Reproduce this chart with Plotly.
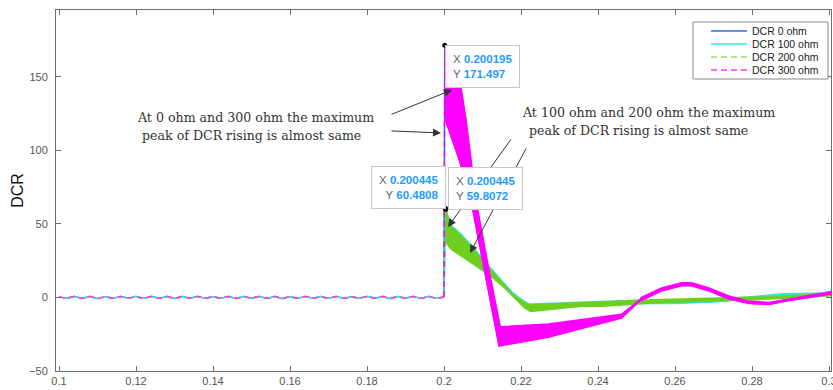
import plotly.graph_objects as go

# ---------------- data ----------------
series_names = ["DCR 0 ohm", "DCR 100 ohm", "DCR 200 ohm", "DCR 300 ohm"]
series_colors = ["#2a6fdb", "#2ee6e6", "#6fcf1f", "#ff00ff"]
legend_colors = ["#2a6fdb", "#2ee6e6", "#9adf6a", "#ff33ff"]
series_dash = ["solid", "solid", "6px,4px", "6px,4px"]

# steady-state ripple before the step (t = 0.1 ... 0.2)
t_pre = [0.100, 0.102, 0.104, 0.106, 0.108, 0.110, 0.112, 0.114, 0.116, 0.118,
         0.120, 0.122, 0.124, 0.126, 0.128, 0.130, 0.132, 0.134, 0.136, 0.138,
         0.140, 0.142, 0.144, 0.146, 0.148, 0.150, 0.152, 0.154, 0.156, 0.158,
         0.160, 0.162, 0.164, 0.166, 0.168, 0.170, 0.172, 0.174, 0.176, 0.178,
         0.180, 0.182, 0.184, 0.186, 0.188, 0.190, 0.192, 0.194, 0.196, 0.198,
         0.200]
v_pre = [0.6, -0.5, 0.7, -0.6, 0.6, -0.7, 0.5, -0.6, 0.7, -0.5,
         0.6, -0.6, 0.7, -0.5, 0.6, -0.7, 0.6, -0.5, 0.7, -0.6,
         0.5, -0.6, 0.7, -0.6, 0.6, -0.5, 0.7, -0.6, 0.6, -0.7,
         0.5, -0.6, 0.7, -0.5, 0.6, -0.6, 0.7, -0.6, 0.5, -0.6,
         0.7, -0.5, 0.6, -0.7, 0.6, -0.5, 0.7, -0.6, 0.6, -0.5,
         0.3]

# step peaks
peak_t = [0.200195, 0.200445, 0.200445, 0.200195]
peak_v = [171.0, 60.4808, 59.8072, 171.497]

# oscillation band: upper / lower envelopes after the step
hi_t = [
    [0.2002, 0.2020, 0.2044, 0.2057, 0.2070, 0.2083, 0.2115, 0.2146, 0.2271, 0.2461, 0.2505,
     0.2513, 0.2565, 0.2617, 0.2643, 0.2688, 0.2740, 0.2792, 0.2844, 0.2896, 0.2948, 0.3008],
    [0.20045, 0.2016, 0.2045, 0.2073, 0.2105, 0.2146, 0.2176, 0.2201, 0.2220, 0.2226,
     0.2360, 0.2410, 0.2500, 0.2600, 0.2700, 0.2800, 0.2880, 0.3008],
    [0.20045, 0.2015, 0.2044, 0.2072, 0.2104, 0.2145, 0.2175, 0.2200, 0.2219, 0.2225,
     0.2357, 0.2409, 0.2565, 0.2669, 0.2844, 0.3008],
    [0.2002, 0.2020, 0.2044, 0.2057, 0.2070, 0.2083, 0.2115, 0.2146, 0.2271, 0.2461, 0.2505,
     0.2513, 0.2565, 0.2617, 0.2643, 0.2688, 0.2740, 0.2792, 0.2844, 0.2896, 0.2948, 0.3008],
]
hi_v = [
    [171.0, 158, 141, 119, 92, 64, 19, -21, -19, -12, -3,
     -0.5, 6, 9.5, 9.5, 6, 0.5, -3, -3.8, -1.2, 1, 3.8],
    [60.4808, 49.8, 42.8, 34.8, 24.8, 12.8, 3.8, -1.3, -4.4, -4.4,
     -3, -2.5, -2, -2.5, -1.5, 0.5, 2.5, 3],
    [59.8072, 49, 42, 34, 24, 12, 3, -2, -5, -5,
     -3.5, -3, -1.4, -0.8, 0.5, 2.8],
    [171.497, 160, 143, 121, 94, 66, 21, -20, -18, -11.5, -2.5,
     0, 6.5, 10, 10, 6.5, 1, -2.5, -3.4, -0.8, 1.4, 4.2],
]
lo_t = [
    [0.2003, 0.2039, 0.2070, 0.2102, 0.2135, 0.2143, 0.2271, 0.2461, 0.2505,
     0.2513, 0.2565, 0.2617, 0.2643, 0.2688, 0.2740, 0.2792, 0.2844, 0.2896, 0.2948, 0.3008],
    [0.2004, 0.2018, 0.2070, 0.2120, 0.2160, 0.2190, 0.2210, 0.2226,
     0.2360, 0.2410, 0.2500, 0.2600, 0.2700, 0.2800, 0.2880, 0.3008],
    [0.2004, 0.2018, 0.2070, 0.2120, 0.2160, 0.2190, 0.2210, 0.2225,
     0.2357, 0.2409, 0.2565, 0.2669, 0.2844, 0.3008],
    [0.2003, 0.2039, 0.2070, 0.2102, 0.2135, 0.2143, 0.2271, 0.2461, 0.2505,
     0.2513, 0.2565, 0.2617, 0.2643, 0.2688, 0.2740, 0.2792, 0.2844, 0.2896, 0.2948, 0.3008],
]
lo_v = [
    [122, 95, 67, 22, -21, -32, -26, -13.5, -3,
     -1.8, 4.7, 8.2, 8.2, 4.7, -0.8, -3.8, -4.6, -1.8, 0.2, 2.8],
    [38.3, 33.3, 24.0, 15.3, 6.3, -1.7, -6.7, -9.2,
     -5.5, -5.5, -4, -4, -3, -1, 1, 1.5],
    [38, 33, 23.7, 15, 6, -2, -7, -9.5,
     -6, -6, -3.4, -2.5, -1, 1.2],
    [121, 94, 66, 21, -22, -33, -27, -14, -3,
     -2, 4.5, 8, 8, 4.5, -1, -4, -4.8, -2, 0, 2.6],
]

# data tips
tip_x = [0.200195, 0.200445, 0.200445]
tip_y = [171.497, 60.4808, 59.8072]
tip_x_text = ["0.200195", "0.200445", "0.200445"]
tip_y_text = ["171.497", "60.4808", "59.8072"]

x_ticks = [0.1, 0.12, 0.14, 0.16, 0.18, 0.2, 0.22, 0.24, 0.26, 0.28, 0.3]
x_tick_text = ["0.1", "0.12", "0.14", "0.16", "0.18", "0.2", "0.22", "0.24", "0.26", "0.28", "0.3"]
y_ticks = [-50, 0, 50, 100, 150]

# ---------------- layout geometry ----------------
W, H = 833, 390
ML, MR, MT, MB = 56, 2, 10, 19


def paper_x(px):
    return (px - ML) / (W - ML - MR)


def paper_y(py):
    return (H - MB - py) / (H - MT - MB)


# ---------------- figure ----------------
fig = go.Figure()

for i in range(4):
    px = hi_t[i] + lo_t[i][::-1]
    py = hi_v[i] + lo_v[i][::-1]
    fig.add_trace(go.Scatter(
        x=px, y=py, mode="lines", fill="toself",
        fillcolor=series_colors[i],
        line=dict(color=series_colors[i], width=1.6),
        showlegend=False, hoverinfo="skip"))
    line_col = legend_colors[i] if i >= 2 else series_colors[i]
    fig.add_trace(go.Scatter(
        x=t_pre, y=v_pre, mode="lines", name=series_names[i],
        line=dict(color=line_col, width=1.5, dash=series_dash[i],
                  shape="spline", smoothing=1.0),
        showlegend=False, hoverinfo="skip"))
    fig.add_trace(go.Scatter(
        x=[t_pre[-1], peak_t[i]], y=[v_pre[-1], peak_v[i]], mode="lines",
        line=dict(color=series_colors[i], width=1.5, dash=series_dash[i]),
        showlegend=False, hoverinfo="skip"))

fig.add_trace(go.Scatter(
    x=tip_x, y=tip_y, mode="markers",
    marker=dict(color="#111111", size=5), showlegend=False, hoverinfo="skip"))

ann = []
serif = dict(family="DejaVu Serif", size=12.6, color="#333333")
ann.append(dict(x=0.11974, y=122.1, xref="x", yref="y", xanchor="left", yanchor="middle",
                text="At 0 ohm and 300 ohm the maximum", showarrow=False, font=serif))
ann.append(dict(x=0.12104, y=109.9, xref="x", yref="y", xanchor="left", yanchor="middle",
                text="peak of DCR rising is almost same", showarrow=False, font=serif))
ann.append(dict(x=0.21974, y=125.5, xref="x", yref="y", xanchor="left", yanchor="middle",
                text="At 100 ohm and 200 ohm the maximum", showarrow=False, font=serif))
ann.append(dict(x=0.22156, y=113.3, xref="x", yref="y", xanchor="left", yanchor="middle",
                text="peak of DCR rising is almost same", showarrow=False, font=serif))

arrows = [
    ((0.20208, 141.2), (0.18597, 124.1)),
    ((0.19922, 111.9), (0.18597, 113.3)),
    ((0.20104, 48.0), (0.21766, 108.5)),
    ((0.20675, 30.3), (0.22156, 102.4)),
]
for (hx, hy), (tx, ty) in arrows:
    ann.append(dict(x=hx, y=hy, ax=tx, ay=ty, xref="x", yref="y", axref="x", ayref="y",
                    text="", showarrow=True, arrowhead=2, arrowsize=1.6, arrowwidth=1,
                    arrowcolor="#333333", standoff=0, startstandoff=0))


def tip_text(xv, yv):
    return ("X <b><span style='color:#1e9bff'>%s</span></b><br>"
            "Y <b><span style='color:#1e9bff'>%s</span></b>" % (xv, yv))


tipfont = dict(family="Liberation Sans", size=11.5, color="#666666")
tipbox = dict(bgcolor="rgba(255,255,255,0.97)", bordercolor="#c8c8c8", borderwidth=1,
              borderpad=7, showarrow=False, font=tipfont, xref="x", yref="y")
tip_anchor = [("left", "top", "left", 0), ("right", "bottom", "right", 0),
              ("left", "bottom", "left", 2)]
for k in range(3):
    xa, ya, al, xs = tip_anchor[k]
    ann.append(dict(x=tip_x[k], y=tip_y[k], xanchor=xa, yanchor=ya, align=al, xshift=xs,
                    text=tip_text(tip_x_text[k], tip_y_text[k]), **tipbox))

# legend box (MATLAB style, compact)
shapes = [dict(type="rect", xref="paper", yref="paper",
               x0=paper_x(693), x1=paper_x(828), y0=paper_y(79), y1=paper_y(22),
               line=dict(color="#8a8a8a", width=1), fillcolor="white", layer="above")]
row_py = [31, 44, 57, 70]
for i in range(4):
    shapes.append(dict(type="line", xref="paper", yref="paper",
                       x0=paper_x(711), x1=paper_x(747),
                       y0=paper_y(row_py[i]), y1=paper_y(row_py[i]),
                       line=dict(color=legend_colors[i], width=1.5, dash=series_dash[i]),
                       layer="above"))
    ann.append(dict(x=paper_x(750), y=paper_y(row_py[i]), xref="paper", yref="paper",
                    xanchor="left", yanchor="middle", text=series_names[i], showarrow=False,
                    font=dict(family="Liberation Sans", size=10.5, color="#222222")))

axis_common = dict(showline=True, linecolor="#6e6e6e", linewidth=1, mirror="ticks",
                   ticks="inside", ticklen=5, tickcolor="#6e6e6e", showgrid=False,
                   zeroline=False, automargin=False, ticklabeloverflow="allow",
                   tickfont=dict(family="Liberation Sans", size=11, color="#555555"))

fig.update_layout(
    width=W, height=H,
    margin=dict(l=ML, r=MR, t=MT, b=MB, pad=0),
    paper_bgcolor="white", plot_bgcolor="white",
    font=dict(family="Liberation Sans"),
    showlegend=False,
    xaxis=dict(range=[0.09922, 0.30052], tickvals=x_ticks, ticktext=x_tick_text, **axis_common),
    yaxis=dict(range=[-50, 195.5], tickvals=y_ticks, ticklabelstandoff=5,
               title=dict(text="DCR", font=dict(size=16, color="#111111"), standoff=1),
               **axis_common),
    annotations=ann,
    shapes=shapes,
)

fig.write_html("out.html", config={"displayModeBar": False},
               post_script="document.body.style.margin='0px';")
